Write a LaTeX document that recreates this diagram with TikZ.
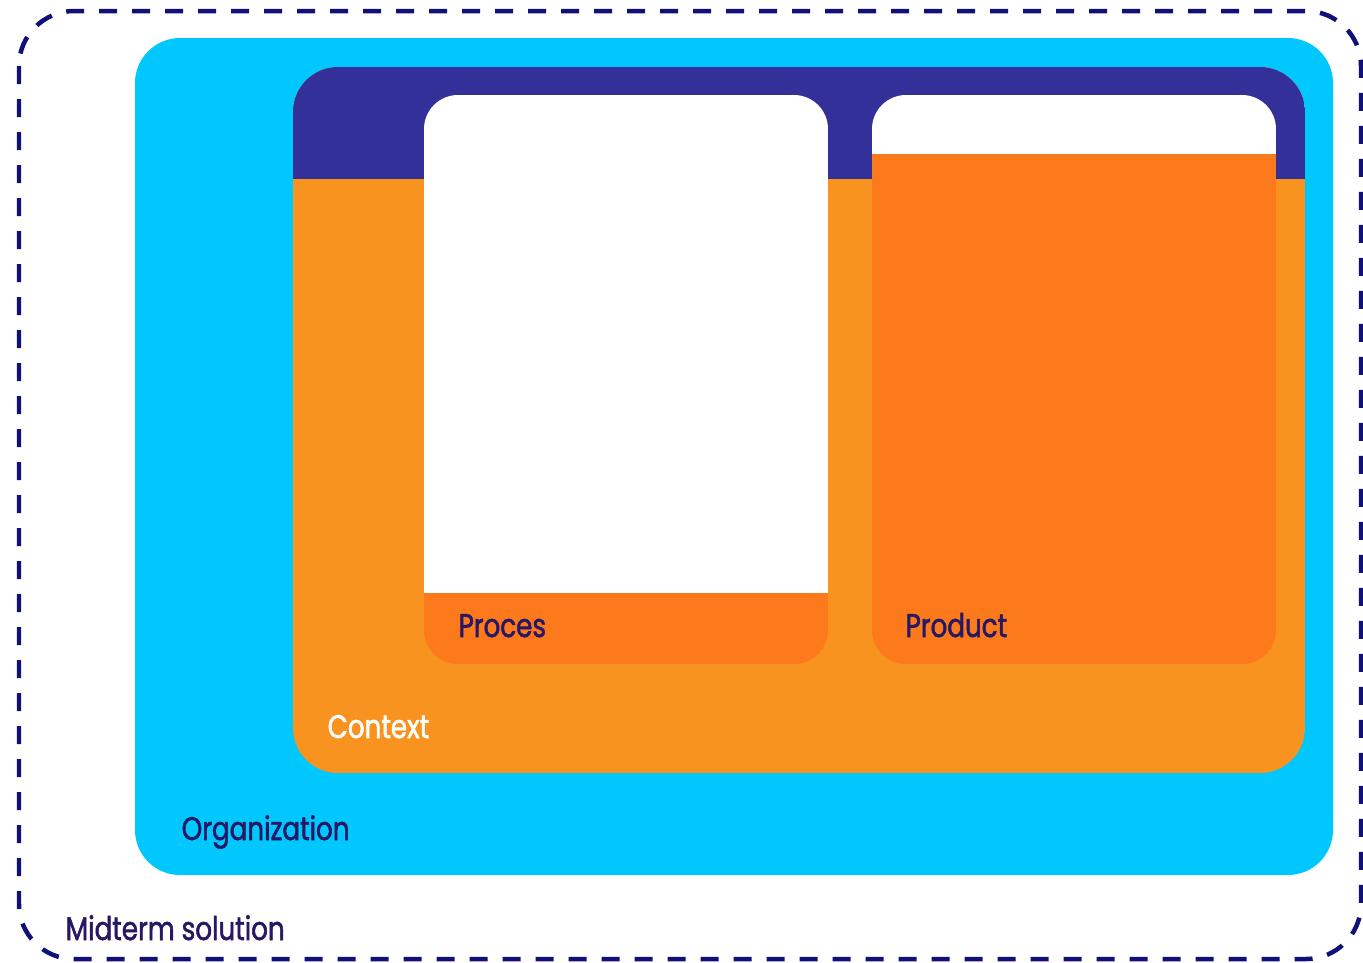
\documentclass[tikz,border=0pt]{standalone}
\usepackage{fontspec}
\newfontfamily\labelfont[FakeStretch=0.8,FakeBold=1.6]{Poppins}
\usetikzlibrary{positioning}
\definecolor{orgcyan}{RGB}{0,200,255}
\definecolor{ctxnavy}{RGB}{51,48,153}
\definecolor{ctxorange}{RGB}{247,147,30}
\definecolor{boxorange}{RGB}{253,122,28}
\definecolor{framenavy}{RGB}{16,16,120}
\definecolor{labelblue}{RGB}{40,24,100}
\tikzset{
boxlabel/.style={
  anchor=base west,
  inner sep=0pt,
  font=\labelfont\fontsize{9.3}{11}\selectfont,
  text=labelblue,
  }
}
\tikzset{
outerframe/.style={
  draw=framenavy,
  line width=0.45mm,
  dash pattern=on 1.8mm off 1.5mm,
  rounded corners=5.5mm,
  }
}
\begin{document}
\begin{tikzpicture}[x=0.1mm,y=-0.1mm]
    \useasboundingbox (0,0) rectangle (1363,962);

    % organization part
    \fill[orgcyan, rounded corners=4.5mm] (135,38) rectangle (1333,875);

    % context part
    \begin{scope}
    \clip[rounded corners=4.5mm] (293,67) rectangle (1305,773);
    \fill[ctxorange] (293,67) rectangle (1305,773);
    \fill[ctxnavy] (293,67) rectangle (1305,179);
    \end{scope}

    % proces part
    \begin{scope}
    \clip[rounded corners=3.4mm] (424,95) rectangle (828,664);
    \fill[white] (424,95) rectangle (828,593);
    \fill[boxorange] (424,593) rectangle (828,664);
    \end{scope}

    % product part
    \begin{scope}
    \clip[rounded corners=3.4mm] (872,95) rectangle (1276,664);
    \fill[white] (872,95) rectangle (1276,154);
    \fill[boxorange] (872,154) rectangle (1276,664);
    \end{scope}

    % midterm frame
    \draw[outerframe] (19,11) rectangle (1361,959);

    % labels
    \node[boxlabel] (proces) at (458,637) {Proces};
    \node[boxlabel] (product) at (905,637) {Product};
    \node[boxlabel, text=white] (context) at (327,738) {Context};
    \node[boxlabel] (org) at (181,840) {Organization};
    \node[boxlabel] (midterm) at (65,940) {Midterm solution};
\end{tikzpicture}
\end{document}
